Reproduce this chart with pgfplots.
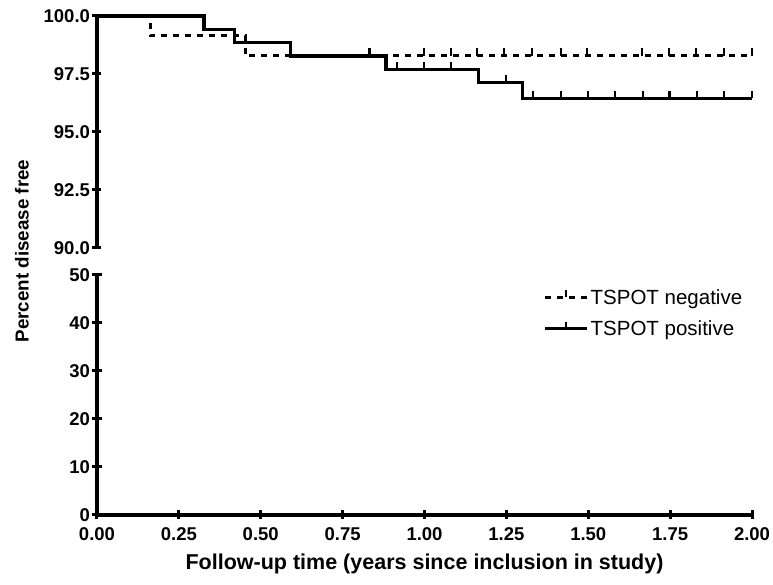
\documentclass[border=0pt]{standalone}
\usepackage{pgfplots}
\pgfplotsset{compat=1.18}
\usepackage{fontspec}
\setmainfont{Liberation Sans}
\pgfdeclareplotmark{cens}{%
  \pgfpathmoveto{\pgfpointorigin}%
  \pgfpathlineto{\pgfpoint{0pt}{\pgfplotmarksize}}%
  \pgfusepathqstroke}
\begin{document}
\begin{tikzpicture}
\pgfplotsset{
  common/.style={
    scale only axis, width=655pt, xmin=0, xmax=2, clip=false,
    every outer x axis line/.append style={-},
    every outer y axis line/.append style={-},
    axis line style={-, line width=3.4pt},
    every tick/.style={black, line width=3pt},
    major tick length=9pt, tick align=outside,
    /pgf/number format/assume math mode=true,
    ticklabel style={font=\fontsize{18.5}{20}\selectfont\bfseries},
    y tick label style={xshift=1pt},
    x tick label style={yshift=-5pt},
  },
  neg/.style={black, line width=3pt, dash pattern=on 6pt off 6pt},
  pos/.style={black, line width=3.4pt},
  cmark/.style={only marks, mark=cens, mark size=7.5pt, mark options={solid, line width=2.2pt}},
}
\path[use as bounding box] (-97pt,-70pt) rectangle (676pt,515pt);

% bottom axis
\begin{axis}[common, at={(0pt,0pt)}, anchor=south west, height=240pt,
  axis x line=bottom, axis y line=left,
  every outer x axis line/.append style={-},
  every outer y axis line/.append style={-},
  ymin=0, ymax=50, ytick={0,10,20,30,40},
  extra y ticks={50}, extra y tick style={tick align=center},
  xtick={0,0.25,...,2},
  xticklabel style={/pgf/number format/.cd, fixed, fixed zerofill, precision=2},
  yticklabel style={/pgf/number format/.cd, fixed, precision=0},
  xlabel={Follow-up time (years since inclusion in study)},
  xlabel style={font=\fontsize{21.5}{24}\selectfont\bfseries, yshift=-6pt},
  legend style={draw=none, fill=none, at={(0.681,0.95)}, anchor=north west,
    font=\fontsize{20.5}{24}\selectfont, row sep=11pt, inner sep=0pt,
    cells={anchor=west}},
  legend image code/.code={%
    \draw[#1] (0pt,0pt) -- (42pt,0pt);
    \draw[black, solid, line width=2.2pt] (21pt,0pt) -- (21pt,7pt);},
]
\addlegendimage{neg}
\addlegendentry{TSPOT negative}
\addlegendimage{pos}
\addlegendentry{TSPOT positive}
\end{axis}

% top axis
\begin{axis}[common, at={(0pt,267pt)}, anchor=south west, height=232pt,
  axis x line=none, axis y line=left,
  every outer x axis line/.append style={-},
  every outer y axis line/.append style={-},
  ymin=90, ymax=100, ytick={92.5,95,97.5,100},
  extra y ticks={90}, extra y tick style={tick align=center},
  yticklabel style={/pgf/number format/.cd, fixed, fixed zerofill, precision=1},
]
% TSPOT negative
\addplot[neg, const plot] coordinates {
  (0,100) (0.162,99.14) (0.453,98.28) (2.0,98.28)};
\addplot[neg, cmark] coordinates {
  (0.832,98.28) (0.998,98.28) (1.081,98.28) (1.160,98.28) (1.243,98.28)
  (1.329,98.28) (1.416,98.28) (1.497,98.28) (1.665,98.28) (1.747,98.28)
  (1.829,98.28) (1.915,98.28) (2.0,98.28)};
% TSPOT positive
\addplot[pos, const plot] coordinates {
  (0,100) (0.327,99.43) (0.420,98.85) (0.590,98.28) (0.883,97.70)
  (1.164,97.13) (1.300,96.45) (2.0,96.45)};
\addplot[pos, cmark] coordinates {
  (0.917,97.70) (0.998,97.70) (1.081,97.70) (1.250,97.13)
  (1.332,96.45) (1.416,96.45) (1.499,96.45) (1.582,96.45) (1.667,96.45)
  (1.748,96.45) (1.832,96.45) (1.915,96.45) (2.0,96.45)};
\end{axis}

\node[rotate=90, font=\fontsize{18.8}{22}\selectfont\bfseries] at (-75pt,264pt) {Percent disease free};
\end{tikzpicture}
\end{document}
